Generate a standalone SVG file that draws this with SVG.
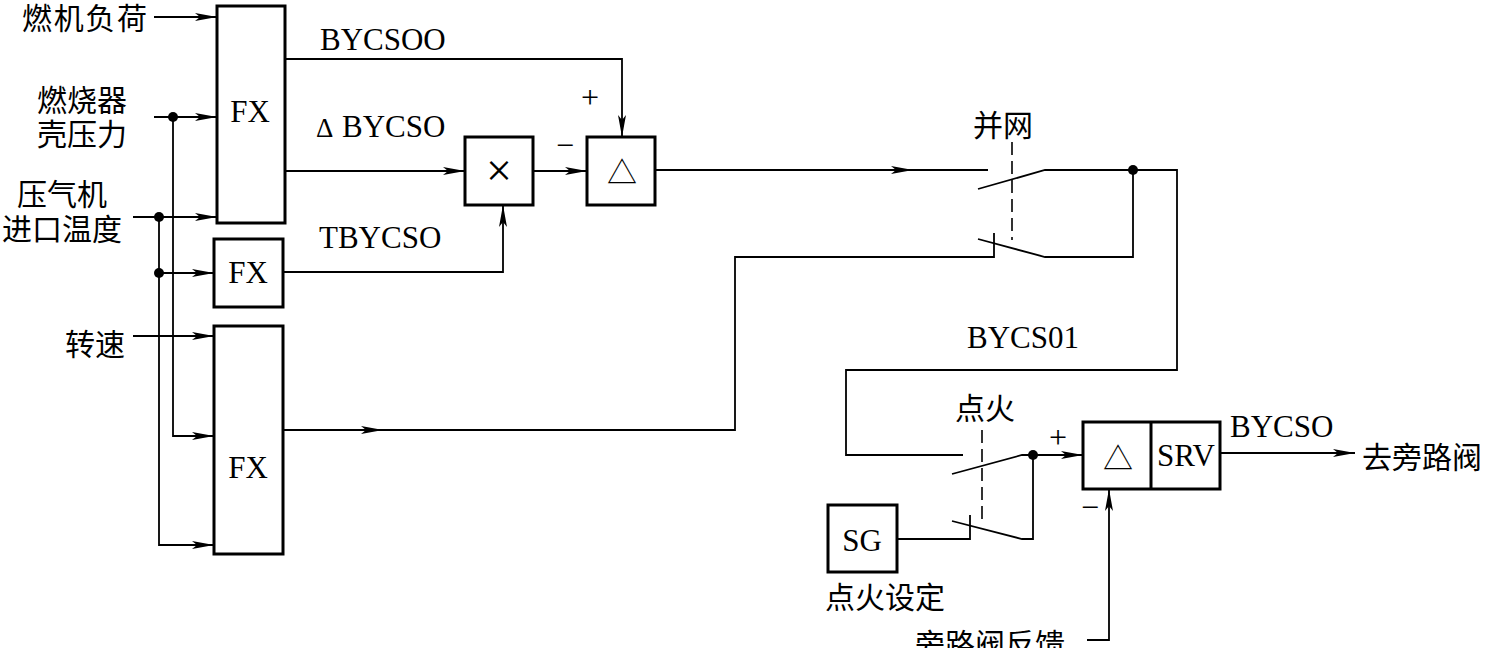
<svg xmlns="http://www.w3.org/2000/svg" width="1485" height="648" viewBox="0 0 1485 648">
<style>
.box{fill:#fff;stroke:#000;stroke-width:3}
.ln{fill:none;stroke:#000;stroke-width:1.8}
.ar{fill:none;stroke:#000;stroke-width:1.8;marker-end:url(#arr)}
.dash{fill:none;stroke:#000;stroke-width:1.6;stroke-dasharray:13 6}
.cn{font-family:"Liberation Serif","Noto Sans CJK SC",serif;font-size:30px;fill:#000}
.lt{font-family:"Liberation Serif",serif;font-size:31px;fill:#000}
.sign{font-family:"Liberation Serif",serif;font-size:32px;fill:#000;text-anchor:middle}
.tri{font-family:"Noto Sans CJK SC",sans-serif;font-size:30px;fill:#000;text-anchor:middle}
</style>
<defs>
<marker id="arr" markerUnits="userSpaceOnUse" markerWidth="26" markerHeight="12" refX="22" refY="5" orient="auto" overflow="visible">
<path d="M0,1 L22,5 L0,9 L5,5 z" fill="#000"/>
</marker>
</defs>

<g id="labels-in">
<text class="cn" x="22" y="29" textLength="125">燃机负荷</text>
<text class="cn" x="37" y="111">燃烧器</text>
<text class="cn" x="37" y="145">壳压力</text>
<text class="cn" x="17" y="205">压气机</text>
<text class="cn" x="2" y="240">进口温度</text>
<text class="cn" x="65" y="355">转速</text>
</g>

<g id="fx1"><rect class="box" x="217" y="6" width="68" height="217"/><text class="lt" x="250" y="122" text-anchor="middle">FX</text></g>
<g id="fx2"><rect class="box" x="214" y="239" width="69" height="68"/><text class="lt" x="248" y="283" text-anchor="middle">FX</text></g>
<g id="fx3"><rect class="box" x="214" y="326" width="69" height="228"/><text class="lt" x="248" y="478" text-anchor="middle">FX</text></g>
<g id="mult"><rect class="box" x="465" y="137" width="68" height="68"/><text class="sign" x="499" y="186" style="font-size:46px">×</text></g>
<g id="sum1"><rect class="box" x="587" y="137" width="68" height="68"/><text class="tri" x="622" y="183">△</text></g>
<g id="sg"><rect class="box" x="828" y="505" width="69" height="67"/><text class="lt" x="862" y="551" text-anchor="middle">SG</text></g>
<g id="sum2"><rect class="box" x="1083" y="422" width="137" height="67"/><line x1="1151" y1="422" x2="1151" y2="489" stroke="#000" stroke-width="3"/><text class="tri" x="1118" y="469">△</text><text class="lt" x="1186" y="466" text-anchor="middle">SRV</text></g>

<g id="signal-labels">
<text class="lt" x="320" y="50">BYCSOO</text>
<text class="lt" x="316" y="137" style="font-size:27px">Δ</text>
<text class="lt" x="342" y="137">BYCSO</text>
<text class="lt" x="319" y="248">TBYCSO</text>
<text class="lt" x="967" y="348">BYCS01</text>
<text class="lt" x="1230" y="437">BYCSO</text>
<text class="cn" x="973" y="136">并网</text>
<text class="cn" x="955" y="419">点火</text>
<text class="cn" x="825" y="608">点火设定</text>
<text class="cn" x="1362" y="468">去旁路阀</text>
<text class="cn" x="915" y="655">旁路阀反馈</text>
<text class="sign" x="590" y="108">+</text>
<text class="sign" x="565" y="156">−</text>
<text class="sign" x="1058" y="448">+</text>
<text class="sign" x="1090" y="518">−</text>
</g>

<g id="connectors">
<path class="ar" d="M154,17 H217"/>
<path class="ar" d="M154,117 H217"/>
<path class="ar" d="M173,117 V436 H214"/>
<path class="ar" d="M133,217 H217"/>
<path class="ar" d="M159,217 V545 H214"/>
<path class="ar" d="M159,273 H214"/>
<path class="ar" d="M133,336 H214"/>
<circle cx="173" cy="117" r="5" fill="#000"/>
<circle cx="159" cy="217" r="5" fill="#000"/>
<circle cx="159" cy="273" r="5" fill="#000"/>
<path class="ar" d="M285,59 H622 V137"/>
<path class="ar" d="M285,171 H465"/>
<path class="ar" d="M283,272 H503 V205"/>
<path class="ar" d="M533,171 H587"/>
<path class="ar" d="M655,170 H913"/>
<path class="ln" d="M913,170 H988"/>
<path class="ln" d="M978,189 L1045,170 H1177 V370 H846 V455 H963"/>
<circle cx="1133" cy="170" r="5" fill="#000"/>
<path class="ln" d="M1133,170 V257 H1045 L978,239"/>
<path class="ar" d="M283,430 H383"/>
<path class="ln" d="M383,430 H735 V257 H994 V233"/>
<path class="dash" d="M1012,142 V240"/>
<path class="ln" d="M952,474 L1022,455 H1033"/>
<circle cx="1033" cy="455" r="5" fill="#000"/>
<path class="ar" d="M1033,455 H1083"/>
<path class="ln" d="M897,539 H970 V515"/>
<path class="ln" d="M952,521 L1022,539 H1033 V455"/>
<path class="dash" d="M982,430 V520"/>
<path class="ar" d="M1220,453 H1355"/>
<path class="ar" d="M1087,640 H1109 V489"/>
</g>
</svg>
